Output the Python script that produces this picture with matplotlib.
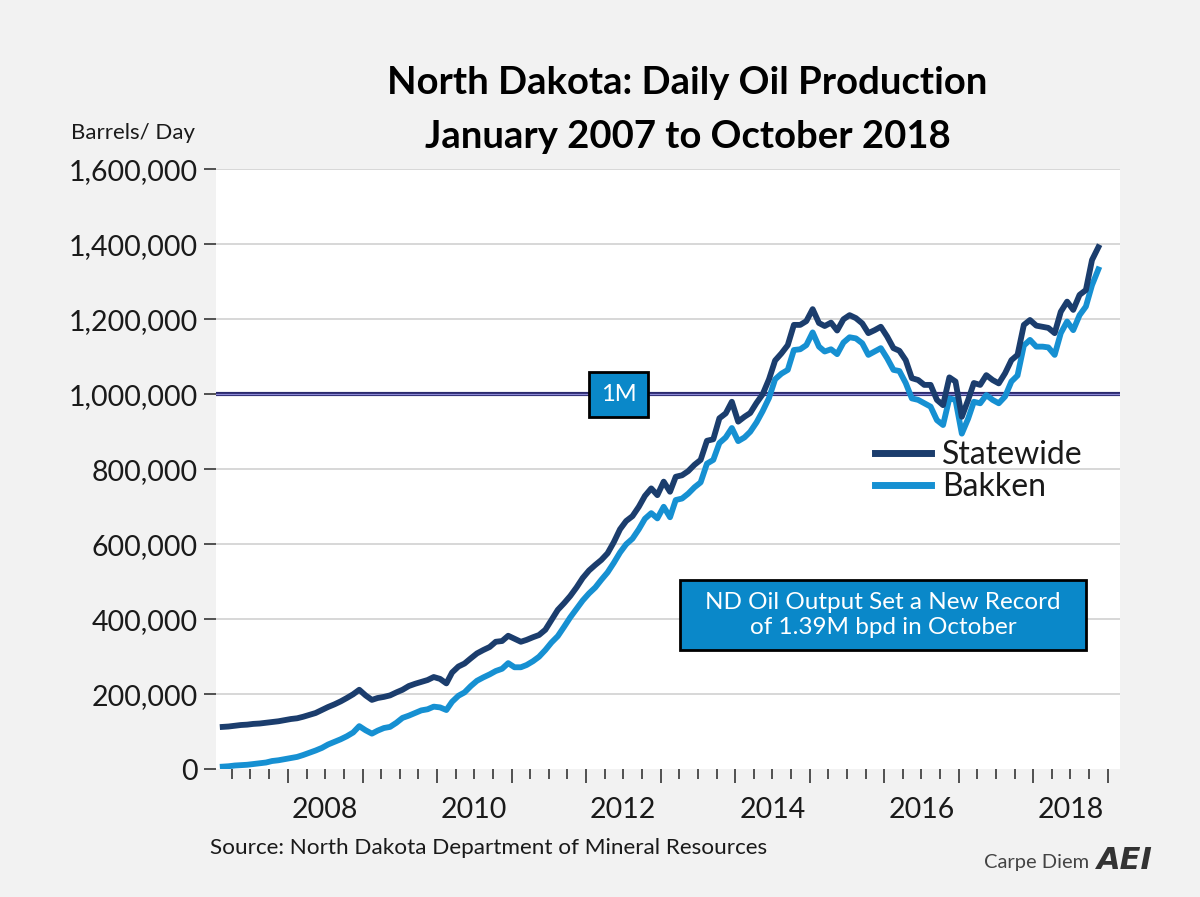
import numpy as np
import pandas as pd
import matplotlib
matplotlib.use("Agg")
import matplotlib.pyplot as plt
import matplotlib.dates as mdates
from matplotlib.lines import Line2D
from matplotlib.patches import Rectangle
from matplotlib.ticker import FuncFormatter

# monthly production, thousand barrels/day, Jan 2007 .. Oct 2018
statewide = [
    113, 114, 116, 118, 119, 121, 122, 124, 126, 128, 131, 134,          # 2007
    136, 140, 145, 150, 158, 166, 173, 181, 190, 200, 212, 197,          # 2008
    185, 190, 193, 197, 205, 212, 222, 228, 233, 238, 246, 241,          # 2009
    229, 258, 274, 282, 296, 309, 318, 326, 340, 342, 356, 348,          # 2010
    340, 345, 352, 358, 372, 398, 425, 443, 462, 485, 510, 530,          # 2011
    545, 558, 576, 605, 640, 662, 675, 700, 729, 749, 731, 767,          # 2012
    740, 780, 784, 795, 812, 825, 876, 880, 936, 949, 980, 927,          # 2013
    940, 950, 977, 1000, 1040, 1090, 1109, 1131, 1185, 1185, 1195, 1227, # 2014
    1190, 1182, 1191, 1170, 1200, 1211, 1203, 1189, 1163, 1171, 1180, 1154,  # 2015
    1123, 1116, 1091, 1043, 1038, 1025, 1025, 985, 971, 1045, 1034, 940,     # 2016
    985, 1030, 1025, 1051, 1038, 1029, 1056, 1091, 1105, 1185, 1198, 1183,   # 2017
    1180, 1177, 1163, 1220, 1247, 1225, 1265, 1278, 1358, 1392,              # 2018
]
bakken = [
    7, 8, 10, 11, 12, 14, 16, 18, 22, 24, 27, 30,
    33, 38, 44, 50, 57, 66, 73, 80, 88, 98, 115, 104,
    95, 103, 110, 113, 124, 137, 143, 150, 157, 160, 167, 165,
    158, 180, 196, 205, 222, 236, 245, 253, 262, 268, 283, 272,
    272, 278, 288, 300, 318, 338, 355, 380, 405, 428, 450, 469,
    485, 505, 525, 550, 578, 600, 615, 640, 668, 683, 669, 700,
    672, 718, 722, 735, 752, 765, 815, 825, 870, 885, 910, 875,
    885, 900, 925, 955, 990, 1040, 1055, 1065, 1118, 1120, 1131, 1165,
    1127, 1114, 1120, 1107, 1138, 1152, 1149, 1136, 1105, 1114, 1123, 1096,
    1065, 1062, 1030, 989, 985, 976, 967, 931, 918, 989, 985, 895,
    935, 980, 976, 998, 985, 976, 994, 1034, 1050, 1130, 1145, 1127,
    1127, 1125, 1105, 1163, 1194, 1171, 1211, 1234, 1291, 1333,
]
months = pd.date_range("2007-01-15", periods=len(statewide), freq="MS") + pd.Timedelta(days=14)
year_labels = ["2008", "2010", "2012", "2014", "2016", "2018"]

NAVY = "#1b3d6d"
BLUE = "#1690d2"
BOXBLUE = "#0a88c9"
FONT = "Lato"
TXT = "#1a1a1a"

fig = plt.figure(figsize=(12, 8.97), dpi=100, facecolor="#f2f2f2")
ax = fig.add_axes([0.18, 0.1424, 0.7533, 0.6689])
ax.set_facecolor("white")

sw = np.array(statewide) * 1000
bk = np.array(bakken) * 1000

ax.set_ylim(0, 1600000)
ax.set_xlim(pd.Timestamp("2007-01-13"), pd.Timestamp("2019-03-01"))

for v in range(200000, 1600001, 200000):
    if v != 1000000:
        ax.axhline(v, color="#d4d4d4", lw=1.3, zorder=1)
# the 1M reference line (dark double line)
ax.axhline(1000000, color="#2b2a6e", lw=3.0, zorder=2)
ax.axhline(1000000, color="#8c89d6", lw=0.9, zorder=2)

ax.plot(months, bk, color=BLUE, lw=4.2, solid_joinstyle="round", zorder=3)
ax.plot(months, sw, color=NAVY, lw=4.2, solid_joinstyle="round", zorder=4)

for s in ax.spines.values():
    s.set_visible(False)

# y axis
ax.set_yticks(range(0, 1600001, 200000))
ax.yaxis.set_major_formatter(FuncFormatter(lambda v, p: f"{int(v):,}"))
ax.tick_params(axis="y", length=9, width=1.3, color="#444444", pad=4,
               labelsize=20.5, labelcolor=TXT)

# x axis: labels centred mid-year, tick marks on a secondary axis
label_dates = [pd.Timestamp(f"{y}-07-01") for y in year_labels]
ax.set_xticks(label_dates)
ax.set_xticklabels(year_labels)
ax.tick_params(axis="x", length=0, pad=20, labelsize=20.5, labelcolor=TXT)

sec = ax.secondary_xaxis("bottom")
sec.xaxis.set_major_locator(mdates.YearLocator(1))
sec.xaxis.set_minor_locator(mdates.MonthLocator(bymonth=[4, 7, 10]))
sec.tick_params(which="major", length=10, width=1.3, color="#444444", labelbottom=False)
sec.tick_params(which="minor", length=7, width=1.3, color="#444444")
for s in sec.spines.values():
    s.set_visible(False)

for lab in ax.get_xticklabels() + ax.get_yticklabels():
    lab.set_fontfamily(FONT)

# 1M marker box
ax.text(pd.Timestamp("2012-06-08"), 1000000, "1M", ha="center", va="center",
        color="white", fontsize=17, fontfamily=FONT, zorder=6,
        bbox=dict(boxstyle="square,pad=0.5", fc=BOXBLUE, ec="black", lw=2))

# record annotation
ax.add_patch(Rectangle((0.513, 0.199), 0.449, 0.1165, transform=ax.transAxes,
                       fc=BOXBLUE, ec="black", lw=2, zorder=5))
ax.text(0.7378, 0.257, "ND Oil Output Set a New Record\nof 1.39M bpd in October",
        transform=ax.transAxes, ha="center", va="center", color="white",
        fontsize=17.5, fontfamily=FONT, linespacing=1.25, zorder=6)

handles = [Line2D([], [], color=NAVY, lw=5), Line2D([], [], color=BLUE, lw=5)]
ax.legend(handles, ["Statewide", "Bakken"], loc="center left",
          bbox_to_anchor=(0.729, 0.497), frameon=False, borderpad=0,
          borderaxespad=0, handlelength=1.75, handletextpad=0.35,
          labelspacing=0.08, labelcolor=TXT,
          prop=dict(family=FONT, size=23))

fig.text(0.573, 0.9075, "North Dakota: Daily Oil Production", ha="center", va="center",
         fontsize=27.5, fontweight="bold", fontfamily=FONT, color="black")
fig.text(0.573, 0.847, "January 2007 to October 2018", ha="center", va="center",
         fontsize=27.5, fontweight="bold", fontfamily=FONT, color="black")
fig.text(0.111, 0.852, "Barrels/ Day", ha="center", va="center", fontsize=16,
         fontfamily=FONT, color=TXT)
fig.text(0.175, 0.0546, "Source: North Dakota Department of Mineral Resources",
         ha="left", va="center", fontsize=16.2, fontfamily=FONT, color=TXT)
fig.text(0.908, 0.039, "Carpe Diem", ha="right", va="center", fontsize=14.5,
         fontfamily=FONT, color="#444444")
fig.text(0.914, 0.041, "AEI", ha="left", va="center", fontsize=22, fontweight="heavy",
         fontstyle="italic", fontfamily="DejaVu Sans", color="#333333")

fig.savefig("out.png", dpi=100, facecolor=fig.get_facecolor())
